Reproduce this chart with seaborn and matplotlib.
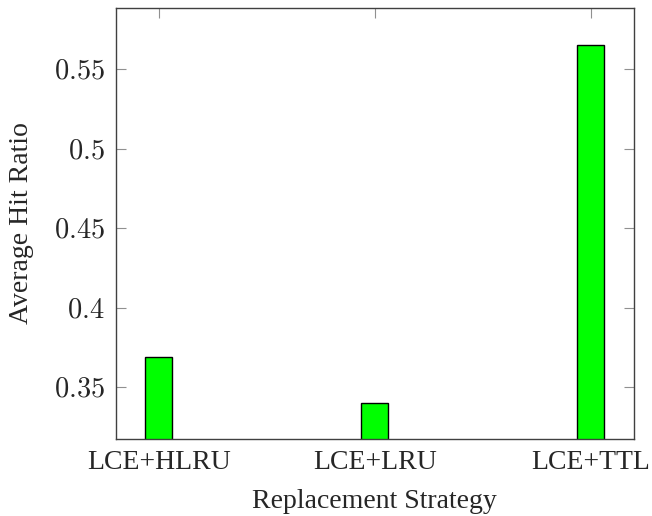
import matplotlib
matplotlib.use("Agg")
import matplotlib.pyplot as plt
import seaborn as sns
import pandas as pd

# Average hit ratio per replacement strategy
strategies = ["LCE+HLRU", "LCE+LRU", "LCE+TTL"]
hit_ratio = [0.369, 0.340, 0.565]
y_ticks = [0.35, 0.40, 0.45, 0.50, 0.55]
y_tick_labels = ["0.35", "0.4", "0.45", "0.5", "0.55"]

sns.set_theme(style="ticks")
plt.rcParams["font.family"] = ["Liberation Serif", "DejaVu Serif"]
plt.rcParams["mathtext.fontset"] = "cm"

df = pd.DataFrame({"strategy": strategies, "hit": hit_ratio})

fig = plt.figure(figsize=(6.52, 5.16), dpi=100)
ax = fig.add_axes([0.1775, 0.1498, 0.7945, 0.8341])

sns.barplot(data=df, x="strategy", y="hit", ax=ax, color="#00ff00",
            width=0.125, edgecolor="black", linewidth=1.0, saturation=1)

ax.set_xlim(-0.2, 2.2)
ax.set_ylim(0.3177, 0.5881)
ax.set_yticks(y_ticks)
ax.set_yticklabels([f"${t}$" for t in y_tick_labels], fontsize=20.5)
ax.set_xticks(range(len(strategies)))
ax.set_xticklabels(strategies, fontsize=20)

ax.tick_params(axis="both", direction="in", length=7, width=0.8,
               color="#909090", top=True, right=True, pad=8)
for s in ax.spines.values():
    s.set_color("#404040")
    s.set_linewidth(1.0)

ax.set_xlabel("Replacement Strategy", fontsize=20, labelpad=10)
ax.set_ylabel("Average Hit Ratio", fontsize=20, labelpad=14)

fig.savefig("out.png", dpi=100)
